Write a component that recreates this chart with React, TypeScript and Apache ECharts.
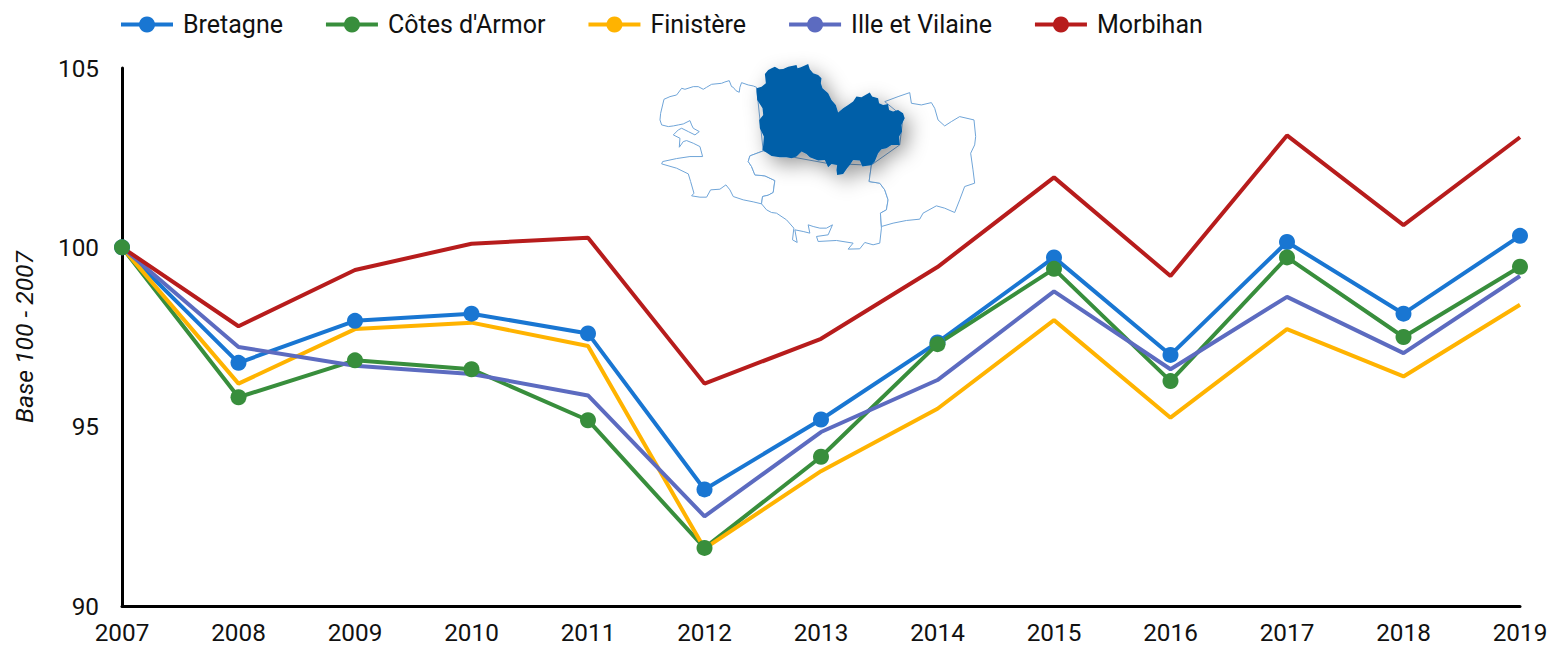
import React, { useEffect, useRef } from "react";
import * as echarts from "echarts";

const years = ["2007","2008","2009","2010","2011","2012","2013","2014","2015","2016","2017","2018","2019"];
const bretagne = [100, 96.78, 97.95, 98.15, 97.6, 93.25, 95.2, 97.35, 99.72, 97.0, 100.15, 98.15, 100.32];
const cotesArmor = [100, 95.82, 96.85, 96.6, 95.18, 91.62, 94.16, 97.3, 99.4, 96.27, 99.72, 97.5, 99.46];
const finistere = [100, 96.2, 97.72, 97.9, 97.25, 91.6, 93.76, 95.5, 97.97, 95.25, 97.72, 96.4, 98.4];
const illeVilaine = [100, 97.22, 96.7, 96.47, 95.87, 92.5, 94.85, 96.3, 98.77, 96.6, 98.62, 97.05, 99.2];
const morbihan = [100, 97.8, 99.37, 100.1, 100.27, 96.2, 97.45, 99.45, 101.95, 99.2, 103.12, 100.62, 103.07];

const seriesDefs = [
  { name: "Bretagne", color: "#1976d2", data: bretagne, marker: true },
  { name: "Côtes d'Armor", color: "#388e3c", data: cotesArmor, marker: true },
  { name: "Finistère", color: "#ffb300", data: finistere, marker: false },
  { name: "Ille et Vilaine", color: "#5c6bc0", data: illeVilaine, marker: false },
  { name: "Morbihan", color: "#b71c1c", data: morbihan, marker: false },
];

const westPath = "M350 112 L340 108 L325 105 L305 98 L300 112 L298 127 L288 122 L280 112 L275 110 L268 92 L255 96 L245 100 L215 103 L200 112 L190 118 L175 110 L160 110 L135 118 L125 115 L110 135 L90 140 L72 148 L62 190 L60 210 L65 225 L85 230 L100 228 L115 225 L130 222 L150 212 L155 225 L160 235 L178 245 L165 255 L145 245 L125 235 L115 240 L100 255 L120 265 L118 292 L130 275 L140 272 L160 280 L180 290 L188 320 L150 320 L110 326 L68 335 L65 342 L110 355 L145 372 L152 395 L162 430 L155 438 L180 442 L200 442 L212 420 L240 418 L258 405 L270 420 L280 440 L310 450 L340 456 L365 462 L368 440 L385 436 L400 428 L405 392 L375 378 L345 375 L335 350 L325 335 L330 318 L370 303 Z";
const southPath = "M330 318 L325 335 L335 350 L345 375 L375 378 L405 392 L400 428 L385 436 L368 440 L365 462 L380 480 L395 488 L410 490 L440 510 L462 535 L458 570 L472 578 L465 540 L490 545 L510 550 L505 525 L520 530 L540 535 L560 535 L578 525 L565 555 L530 560 L535 575 L590 572 L640 580 L625 598 L660 597 L675 578 L700 585 L720 580 L725 535 L722 490 L740 480 L745 450 L735 420 L720 400 L688 395 L695 345 L670 345 L560 340 L450 320 L370 303 Z";
const eastPath = "M735 155 L775 140 L810 128 L815 160 L845 165 L875 158 L885 175 L895 210 L915 228 L935 215 L960 200 L1003 210 L1008 260 L1005 285 L993 310 L1000 360 L1005 400 L975 410 L960 450 L945 488 L915 475 L890 468 L850 490 L840 508 L800 512 L760 520 L725 530 L722 490 L740 480 L745 450 L735 420 L720 400 L688 395 L695 345 L780 285 L790 200 Z";
const cotesPath = "M350 115 L365 110 L378 100 L375 72 L385 60 L395 55 L405 50 L418 58 L430 57 L445 50 L470 45 L473 55 L483 52 L505 42 L510 58 L520 70 L535 75 L545 85 L543 100 L548 115 L565 130 L575 150 L588 165 L595 188 L610 175 L625 165 L640 155 L650 140 L665 142 L690 128 L697 140 L715 145 L718 160 L730 165 L745 162 L748 180 L760 185 L775 180 L790 190 L795 205 L785 225 L787 245 L778 260 L780 285 L755 285 L740 295 L725 298 L715 310 L705 335 L695 345 L668 350 L660 332 L640 330 L630 345 L622 355 L610 372 L592 375 L590 360 L592 345 L575 342 L565 352 L555 330 L535 332 L510 322 L500 312 L485 305 L470 320 L455 325 L440 322 L420 322 L395 318 L368 300 L370 285 L372 260 L360 235 L358 210 L370 195 L368 175 L352 150 L350 125 Z";

echarts.graphic.registerShape("mapWest", echarts.graphic.extendPath(westPath, {}) as any);
echarts.graphic.registerShape("mapSouth", echarts.graphic.extendPath(southPath, {}) as any);
echarts.graphic.registerShape("mapEast", echarts.graphic.extendPath(eastPath, {}) as any);
echarts.graphic.registerShape("mapCotes", echarts.graphic.extendPath(cotesPath, {}) as any);

export default function App() {
  const ref = useRef<HTMLDivElement>(null);
  useEffect(() => {
    const chart = echarts.init(ref.current!, undefined, { renderer: "svg" });
    const outline = { fill: "#fff", stroke: "#6fa5d8", lineWidth: 3 };
    const place = (type: string, style: any) => ({
      type, x: 640, y: 50, scaleX: 1 / 3, scaleY: 1 / 3, style, silent: true,
    });
    chart.setOption({
      animation: false,
      textStyle: { fontFamily: "Roboto" },
      legend: {
        left: 119, top: 12, padding: 0, itemWidth: 52, itemHeight: 20, itemGap: 41, selectedMode: false,
        lineStyle: { width: 4 },
        textStyle: { fontSize: 25, color: "#111", fontFamily: "Roboto", padding: [0, 0, 0, 5] },
        data: seriesDefs.map((s) => s.name),
      },
      grid: { left: 122, right: 28, top: 68, bottom: 39, outerBoundsMode: "none" },
      xAxis: {
        type: "category", data: years, boundaryGap: false,
        axisLine: { lineStyle: { color: "#000", width: 3 } },
        axisTick: { show: false },
        axisLabel: { fontSize: 24.3, color: "#111", margin: 14, fontFamily: "Roboto", interval: 0 },
      },
      yAxis: {
        type: "value", min: 90, max: 105, interval: 5,
        name: "Base 100 - 2007", nameLocation: "middle", nameGap: 85,
        nameTextStyle: { fontSize: 24.7, fontStyle: "italic", color: "#111", fontFamily: "Roboto" },
        axisLine: { show: true, lineStyle: { color: "#000", width: 3 } },
        axisTick: { show: false },
        splitLine: { show: false },
        axisLabel: { fontSize: 24.3, color: "#111", margin: 23, fontFamily: "Roboto" },
      },
      graphic: [
        place("mapWest", outline),
        place("mapSouth", outline),
        place("mapEast", outline),
        place("mapCotes", {
          fill: "#045ea8",
          shadowBlur: 20, shadowOffsetX: 6, shadowOffsetY: 7, shadowColor: "rgba(0,0,0,0.4)",
        }),
      ],
      series: seriesDefs.map((s) => ({
        name: s.name, type: "line", data: s.data,
        symbol: s.marker ? "circle" : "none", symbolSize: 16, showSymbol: s.marker,
        lineStyle: { color: s.color, width: 4 },
        itemStyle: { color: s.color },
        emphasis: { disabled: true },
      })),
    });
    return () => chart.dispose();
  }, []);
  return <div ref={ref} style={{ position: "absolute", left: 0, top: 0, width: 1548, height: 645 }} />;
}
